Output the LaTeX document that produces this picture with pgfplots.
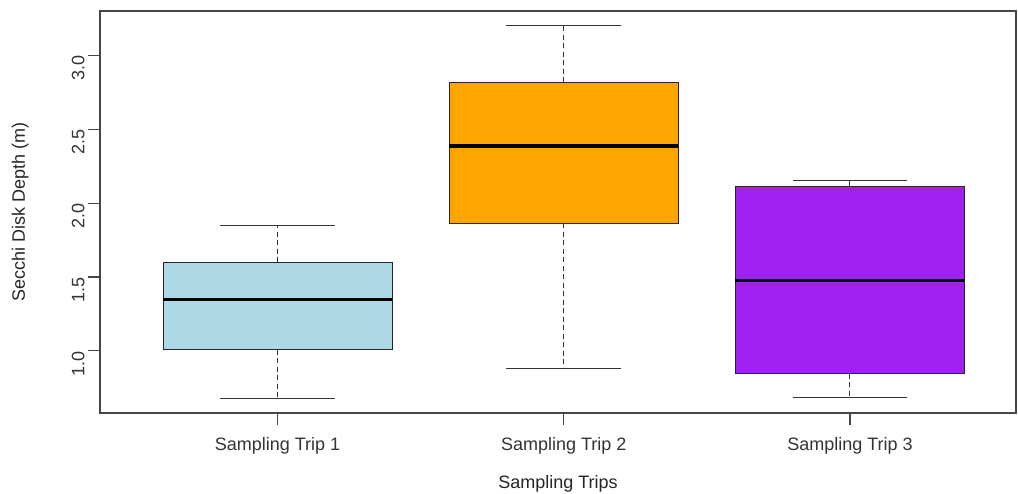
\documentclass[border=0pt]{standalone}
\usepackage{pgfplots}
\pgfplotsset{compat=1.18}
\usepgfplotslibrary{statistics}
\usepackage{fontspec}
\setmainfont{Liberation Sans}

\definecolor{boxblue}{RGB}{173,216,230}
\definecolor{boxorange}{RGB}{255,165,0}
\definecolor{boxpurple}{RGB}{160,32,240}
\definecolor{axisgray}{RGB}{70,70,70}

\begin{document}
\begin{tikzpicture}
\useasboundingbox (-100pt,-80pt) rectangle (918pt,413pt);
\begin{axis}[
  at={(0pt,0pt)}, anchor=south west,
  scale only axis, width=916pt, height=402pt,
  xmin=0.38, xmax=3.58, ymin=0.579, ymax=3.301,
  axis line style={axisgray, line width=1.1pt},
  tick style={axisgray, line width=1.1pt},
  tick align=outside, major tick length=12pt,
  xtick pos=bottom, ytick pos=left,
  xtick={1,2,3},
  xticklabels={Sampling Trip 1, Sampling Trip 2, Sampling Trip 3},
  xticklabel style={yshift=-9pt},
  ytick={1.0,1.5,2.0,2.5,3.0},
  yticklabel style={rotate=90, anchor=south, xshift=-13pt,
    /pgf/number format/.cd, fixed, fixed zerofill, precision=1},
  /pgf/number format/assume math mode=true,
  ticklabel style={font=\fontsize{18}{21}\selectfont, text=black!80},
  xlabel={Sampling Trips},
  ylabel={Secchi Disk Depth (m)},
  every axis x label/.style={at={(axis description cs:0.5,-0.1766)}, anchor=center,
    font=\fontsize{18}{21}\selectfont, text=black!85},
  every axis y label/.style={at={(axis description cs:-0.087,0.5)}, anchor=center, rotate=90,
    font=\fontsize{18}{21}\selectfont, text=black!85},
  boxplot/draw direction=y,
  boxplot/every box/.style={draw=black!85, line width=0.9pt},
  boxplot/every median/.style={draw=black, line width=3.2pt},
  boxplot/every whisker/.style={draw=black!80, line width=1pt},
  boxplot/draw/lower whisker/.code={%
    \draw[/pgfplots/boxplot/every whisker/.try, dash pattern=on 5pt off 3.5pt]
      (boxplot box cs:\pgfplotsboxplotvalue{lower quartile},0.5) --
      (boxplot box cs:\pgfplotsboxplotvalue{lower whisker},0.5);
    \draw[/pgfplots/boxplot/every whisker/.try, solid]
      (boxplot whisker cs:\pgfplotsboxplotvalue{lower whisker},0) --
      (boxplot whisker cs:\pgfplotsboxplotvalue{lower whisker},1);
  },
  boxplot/draw/upper whisker/.code={%
    \draw[/pgfplots/boxplot/every whisker/.try, dash pattern=on 5pt off 3.5pt]
      (boxplot box cs:\pgfplotsboxplotvalue{upper quartile},0.5) --
      (boxplot box cs:\pgfplotsboxplotvalue{upper whisker},0.5);
    \draw[/pgfplots/boxplot/every whisker/.try, solid]
      (boxplot whisker cs:\pgfplotsboxplotvalue{upper whisker},0) --
      (boxplot whisker cs:\pgfplotsboxplotvalue{upper whisker},1);
  },
]
% Sampling Trip 1
\addplot[fill=boxblue, draw=black!85, boxplot prepared={
  draw position=1, box extend=0.8, whisker extend=0.4,
  lower whisker=0.68, lower quartile=1.007, median=1.345,
  upper quartile=1.601, upper whisker=1.847}] coordinates {};
% Sampling Trip 2
\addplot[fill=boxorange, draw=black!85, boxplot prepared={
  draw position=2, box extend=0.8, whisker extend=0.4,
  lower whisker=0.883, lower quartile=1.863, median=2.387,
  upper quartile=2.82, upper whisker=3.20}] coordinates {};
% Sampling Trip 3
\addplot[fill=boxpurple, draw=black!85, boxplot prepared={
  draw position=3, box extend=0.8, whisker extend=0.4,
  lower whisker=0.682, lower quartile=0.845, median=1.475,
  upper quartile=2.113, upper whisker=2.155}] coordinates {};
\end{axis}
\end{tikzpicture}
\end{document}
